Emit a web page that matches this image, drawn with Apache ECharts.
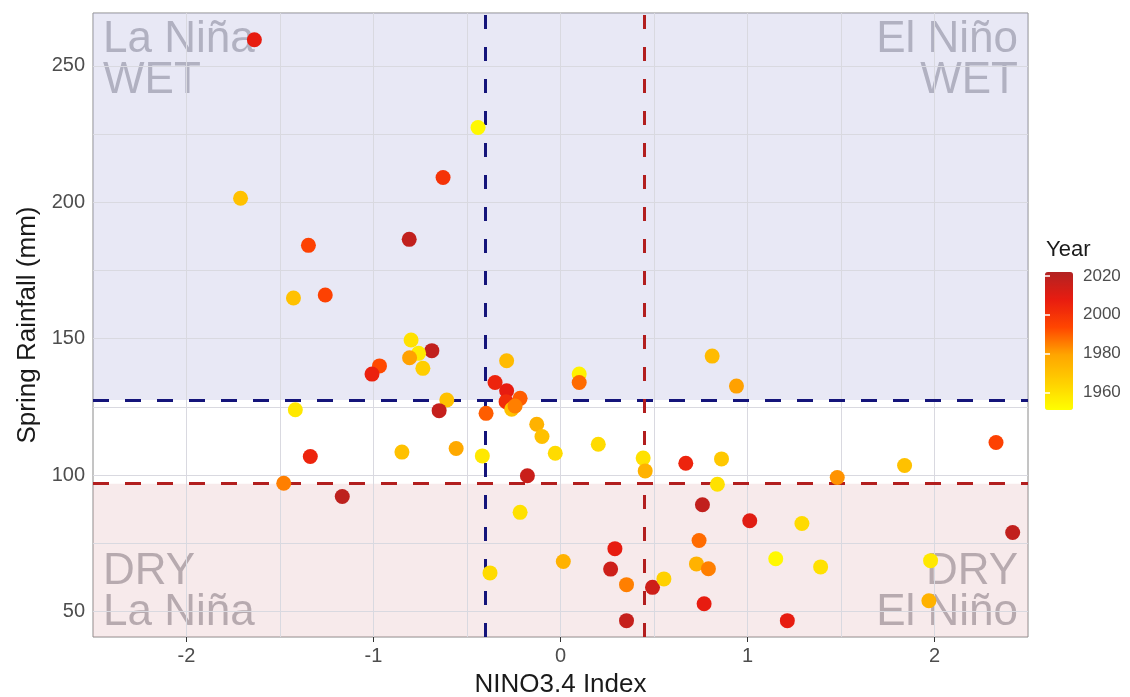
<!DOCTYPE html>
<html><head><meta charset="utf-8">
<script src="https://cdn.jsdelivr.net/npm/echarts@6/dist/echarts.min.js"></script>
<style>html,body{margin:0;padding:0;background:#fff}#c{width:1130px;height:697px}</style>
</head><body><div id="c"></div>
<script>
const nino = [-1.637,-1.711,-0.441,-0.628,-1.348,-0.809,-1.428,-1.258,-0.799,-0.688,
  -0.759,-0.807,-0.736,-0.968,-1.008,-0.608,-0.649,-0.848,-0.558,-0.418,
  -0.398,-0.288,-0.350,-0.288,-0.291,-0.216,-0.261,-0.243,-0.127,-0.099,
  -0.028,-0.177,0.202,0.100,0.100,-1.167,-0.216,-1.418,-1.338,-1.480,
  -0.377,0.015,0.811,0.941,0.442,0.453,0.670,0.861,0.839,1.480,
  1.840,2.329,0.759,1.012,1.291,2.418,0.741,0.291,0.268,0.727,
  0.791,1.151,1.391,1.979,1.970,0.353,0.492,0.553,0.353,0.768,1.213];
const rain = [259.6,201.5,227.4,209.1,184.2,186.4,164.9,166.0,149.5,145.6,
  144.6,143.0,139.1,140.0,137.0,127.5,123.6,108.4,109.7,107.0,
  122.6,141.9,133.9,130.9,126.9,128.1,124.1,125.3,118.6,114.1,
  108.0,99.7,111.3,137.0,133.9,92.1,86.3,123.9,106.8,97.0,
  64.1,68.3,143.6,132.6,106.2,101.5,104.3,105.9,96.6,99.1,
  103.5,111.9,89.1,83.2,82.2,78.9,76.0,73.0,65.5,67.4,
  65.6,69.3,66.3,68.6,53.9,59.8,58.8,61.9,46.6,52.8,46.6];
const year = [2008,1970,1953,2000,1995,2018,1970,1995,1960,2018,
  1957,1980,1966,1993,2006,1970,2017,1970,1978,1958,
  1990,1972,2005,2008,2002,1990,1970,1985,1975,1970,
  1962,2016,1962,1955,1988,2019,1960,1958,2005,1985,
  1962,1975,1972,1980,1960,1975,2005,1968,1960,1982,
  1970,1995,2018,2010,1962,2018,1988,2008,2015,1975,
  1985,1953,1960,1958,1975,1985,2015,1965,2017,2008,2008];

const xTicks = [-2,-1,0,1,2];
const yTicks = [50,100,150,200,250];
const xGrid = [-2,-1.5,-1,-0.5,0,0.5,1,1.5,2];
const yGrid = [50,75,100,125,150,175,200,225,250];
const legendTicks = [1960,1980,2000,2020];
const wetThreshold = 127.5, dryThreshold = 96.8;
const laNinaThreshold = -0.403, elNinoThreshold = 0.446;
const xMin = -2.5, xMax = 2.5, yMin = 40.6, yMax = 269.4;
const yearMin = 1951, yearMax = 2022;

const points = nino.map((x, i) => [x, rain[i], year[i]]);

const FONT = 'Liberation Sans, Arial, Helvetica, sans-serif';
const G = {left: 93, top: 13, width: 935, height: 624};
const quadColor = 'rgba(90,90,100,0.48)';
const qText = {fontSize: 44, fontFamily: FONT, fill: quadColor, lineHeight: 41, verticalAlign: 'top'};
const gridStyle = {color: '#d9d9e0', width: 1, type: 'solid'};

const chart = echarts.init(document.getElementById('c'), null, {renderer: 'canvas'});
chart.setOption({
  backgroundColor: '#fff',
  animation: false,
  textStyle: {fontFamily: FONT},
  grid: [
    {left: G.left, top: G.top, width: G.width, height: G.height, show: true,
     containLabel: false, outerBoundsMode: 'none',
     borderColor: '#8a8a8a', borderWidth: 1, backgroundColor: 'transparent'},
    {left: 1045, top: 272, width: 28, height: 138, containLabel: false, outerBoundsMode: 'none'}
  ],
  xAxis: [
    {type: 'value', gridIndex: 0, min: xMin, max: xMax,
     name: 'NINO3.4 Index', nameLocation: 'middle', nameGap: 35,
     nameTextStyle: {fontSize: 26, color: '#1a1a1a', fontFamily: FONT},
     axisLine: {show: false},
     axisTick: {show: true, customValues: xTicks, length: 5, lineStyle: {color: '#333'}},
     axisLabel: {customValues: xTicks, fontSize: 20, color: '#4d4d4d', margin: 9, fontFamily: FONT},
     splitLine: {show: false}},
    {type: 'value', gridIndex: 1, min: 0, max: 1, show: false}
  ],
  yAxis: [
    {type: 'value', gridIndex: 0, min: yMin, max: yMax,
     name: 'Spring Rainfall (mm)', nameLocation: 'middle', nameGap: 50,
     nameTextStyle: {fontSize: 26, color: '#1a1a1a', fontFamily: FONT},
     axisLine: {show: false},
     axisTick: {show: true, customValues: yTicks, length: 5, lineStyle: {color: '#333'}},
     axisLabel: {customValues: yTicks, fontSize: 20, color: '#4d4d4d', margin: 8, fontFamily: FONT},
     splitLine: {show: false}},
    {type: 'value', gridIndex: 1, min: yearMin, max: yearMax, position: 'right', z: 10,
     axisLine: {show: false}, splitLine: {show: false},
     axisTick: {show: true, inside: true, customValues: legendTicks, length: 5, lineStyle: {color: '#fff', width: 1.5}},
     axisLabel: {customValues: legendTicks, fontSize: 17, color: '#4d4d4d', margin: 10, fontFamily: FONT,
                 formatter: v => String(v)}},
    {type: 'value', gridIndex: 1, min: yearMin, max: yearMax, position: 'left', z: 10,
     axisLine: {show: false}, splitLine: {show: false},
     axisTick: {show: true, inside: true, customValues: legendTicks, length: 5, lineStyle: {color: '#fff', width: 1.5}},
     axisLabel: {show: false}}
  ],
  visualMap: {
    type: 'continuous', min: yearMin, max: yearMax, dimension: 2, seriesIndex: 1,
    orient: 'vertical', left: 1045, top: 272, itemWidth: 28, itemHeight: 138,
    padding: 0, calculable: false, hoverLink: false,
    inRange: {color: ['#FFFF00', '#FFD000', '#FFA500', '#FF4500', '#E81C10', '#B22222']}
  },
  graphic: [
    {type: 'text', x: 103, y: 19, z: 0, style: Object.assign({text: 'La Niña\nWET', align: 'left'}, qText)},
    {type: 'text', x: 1018, y: 19, z: 0, style: Object.assign({text: 'El Niño\nWET', align: 'right'}, qText)},
    {type: 'text', x: 103, y: 551, z: 0, style: Object.assign({text: 'DRY\nLa Niña', align: 'left'}, qText)},
    {type: 'text', x: 1018, y: 551, z: 0, style: Object.assign({text: 'DRY\nEl Niño', align: 'right'}, qText)},
    {type: 'text', x: 1046, y: 239, style: {text: 'Year', fontSize: 22, fill: '#1a1a1a', fontFamily: FONT}}
  ],
  series: [
    {type: 'scatter', xAxisIndex: 0, yAxisIndex: 0, data: [], silent: true, z: 1,
     markArea: {silent: true, z: 0,
       data: [
         [{yAxis: wetThreshold, itemStyle: {color: 'rgba(180,180,222,0.30)'}}, {yAxis: yMax}],
         [{yAxis: yMin, itemStyle: {color: 'rgba(215,150,155,0.20)'}}, {yAxis: dryThreshold}]
       ]},
     markLine: {silent: true, symbol: 'none', z: 1, label: {show: false},
       data: yGrid.map(v => ({yAxis: v, lineStyle: gridStyle}))
         .concat(xGrid.map(v => ({xAxis: v, lineStyle: gridStyle})))
         .concat([
         {yAxis: wetThreshold, lineStyle: {color: '#14147a', width: 3, type: [16, 16]}},
         {yAxis: dryThreshold, lineStyle: {color: '#b21e1e', width: 3, type: [16, 16]}},
         {xAxis: laNinaThreshold, lineStyle: {color: '#14147a', width: 3, type: [14, 18]}},
         {xAxis: elNinoThreshold, lineStyle: {color: '#b21e1e', width: 3, type: [14, 18]}}
       ])}},
    {type: 'scatter', xAxisIndex: 0, yAxisIndex: 0, data: points, symbolSize: 15, z: 3,
     itemStyle: {opacity: 1}}
  ]
});
</script>
</body></html>
